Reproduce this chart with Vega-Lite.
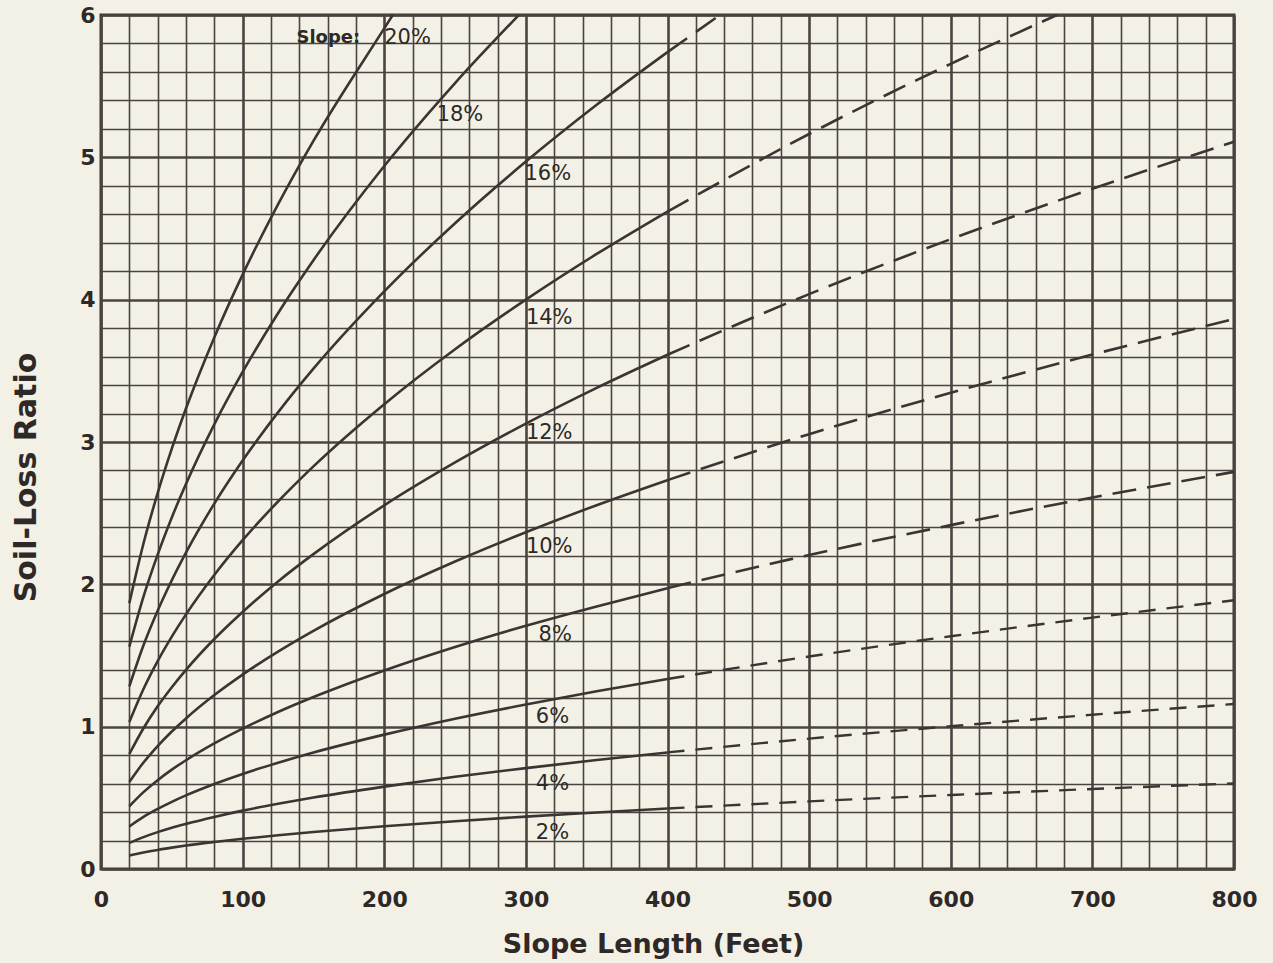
{
  "$schema": "https://vega.github.io/schema/vega-lite/v6.json",
  "width": 1133,
  "height": 854,
  "autosize": {"type": "none"},
  "padding": {"left": 101, "top": 15, "right": 39, "bottom": 94},
  "background": "#f3f1e6",
  "config": {
    "view": {"stroke": "#3a3532", "strokeWidth": 3},
    "font": "DejaVu Sans"
  },
  "datasets": {
    "curves": [
      {"slope": 2, "part": "solid", "x": 20, "y": 0.095}, {"slope": 2, "part": "solid", "x": 30, "y": 0.116}, {"slope": 2, "part": "solid", "x": 40, "y": 0.134}, {"slope": 2, "part": "solid", "x": 50, "y": 0.150}, {"slope": 2, "part": "solid", "x": 60, "y": 0.165}, {"slope": 2, "part": "solid", "x": 80, "y": 0.190}, {"slope": 2, "part": "solid", "x": 100, "y": 0.212}, {"slope": 2, "part": "solid", "x": 125, "y": 0.237}, {"slope": 2, "part": "solid", "x": 150, "y": 0.260}, {"slope": 2, "part": "solid", "x": 200, "y": 0.300}, {"slope": 2, "part": "solid", "x": 250, "y": 0.336}, {"slope": 2, "part": "solid", "x": 300, "y": 0.368}, {"slope": 2, "part": "solid", "x": 350, "y": 0.397}, {"slope": 2, "part": "solid", "x": 400, "y": 0.425},
      {"slope": 2, "part": "dashed", "x": 400, "y": 0.425}, {"slope": 2, "part": "dashed", "x": 500, "y": 0.475}, {"slope": 2, "part": "dashed", "x": 600, "y": 0.520}, {"slope": 2, "part": "dashed", "x": 700, "y": 0.562}, {"slope": 2, "part": "dashed", "x": 800, "y": 0.601},
      {"slope": 4, "part": "solid", "x": 20, "y": 0.183}, {"slope": 4, "part": "solid", "x": 30, "y": 0.224}, {"slope": 4, "part": "solid", "x": 40, "y": 0.259}, {"slope": 4, "part": "solid", "x": 50, "y": 0.290}, {"slope": 4, "part": "solid", "x": 60, "y": 0.317}, {"slope": 4, "part": "solid", "x": 80, "y": 0.366}, {"slope": 4, "part": "solid", "x": 100, "y": 0.410}, {"slope": 4, "part": "solid", "x": 125, "y": 0.458}, {"slope": 4, "part": "solid", "x": 150, "y": 0.502}, {"slope": 4, "part": "solid", "x": 200, "y": 0.579}, {"slope": 4, "part": "solid", "x": 250, "y": 0.648}, {"slope": 4, "part": "solid", "x": 300, "y": 0.709}, {"slope": 4, "part": "solid", "x": 350, "y": 0.766}, {"slope": 4, "part": "solid", "x": 400, "y": 0.819},
      {"slope": 4, "part": "dashed", "x": 400, "y": 0.819}, {"slope": 4, "part": "dashed", "x": 500, "y": 0.916}, {"slope": 4, "part": "dashed", "x": 600, "y": 1.003}, {"slope": 4, "part": "dashed", "x": 700, "y": 1.084}, {"slope": 4, "part": "dashed", "x": 800, "y": 1.159},
      {"slope": 6, "part": "solid", "x": 20, "y": 0.299}, {"slope": 6, "part": "solid", "x": 30, "y": 0.366}, {"slope": 6, "part": "solid", "x": 40, "y": 0.422}, {"slope": 6, "part": "solid", "x": 50, "y": 0.472}, {"slope": 6, "part": "solid", "x": 60, "y": 0.517}, {"slope": 6, "part": "solid", "x": 80, "y": 0.597}, {"slope": 6, "part": "solid", "x": 100, "y": 0.668}, {"slope": 6, "part": "solid", "x": 125, "y": 0.746}, {"slope": 6, "part": "solid", "x": 150, "y": 0.818}, {"slope": 6, "part": "solid", "x": 200, "y": 0.944}, {"slope": 6, "part": "solid", "x": 250, "y": 1.056}, {"slope": 6, "part": "solid", "x": 300, "y": 1.156}, {"slope": 6, "part": "solid", "x": 350, "y": 1.249}, {"slope": 6, "part": "solid", "x": 400, "y": 1.335},
      {"slope": 6, "part": "dashed", "x": 400, "y": 1.335}, {"slope": 6, "part": "dashed", "x": 500, "y": 1.493}, {"slope": 6, "part": "dashed", "x": 600, "y": 1.635}, {"slope": 6, "part": "dashed", "x": 700, "y": 1.766}, {"slope": 6, "part": "dashed", "x": 800, "y": 1.888},
      {"slope": 8, "part": "solid", "x": 20, "y": 0.441}, {"slope": 8, "part": "solid", "x": 30, "y": 0.540}, {"slope": 8, "part": "solid", "x": 40, "y": 0.624}, {"slope": 8, "part": "solid", "x": 50, "y": 0.698}, {"slope": 8, "part": "solid", "x": 60, "y": 0.764}, {"slope": 8, "part": "solid", "x": 80, "y": 0.882}, {"slope": 8, "part": "solid", "x": 100, "y": 0.986}, {"slope": 8, "part": "solid", "x": 125, "y": 1.103}, {"slope": 8, "part": "solid", "x": 150, "y": 1.208}, {"slope": 8, "part": "solid", "x": 200, "y": 1.395}, {"slope": 8, "part": "solid", "x": 250, "y": 1.560}, {"slope": 8, "part": "solid", "x": 300, "y": 1.709}, {"slope": 8, "part": "solid", "x": 350, "y": 1.845}, {"slope": 8, "part": "solid", "x": 400, "y": 1.973},
      {"slope": 8, "part": "dashed", "x": 400, "y": 1.973}, {"slope": 8, "part": "dashed", "x": 500, "y": 2.206}, {"slope": 8, "part": "dashed", "x": 600, "y": 2.416}, {"slope": 8, "part": "dashed", "x": 700, "y": 2.610}, {"slope": 8, "part": "dashed", "x": 800, "y": 2.790},
      {"slope": 10, "part": "solid", "x": 20, "y": 0.611}, {"slope": 10, "part": "solid", "x": 30, "y": 0.748}, {"slope": 10, "part": "solid", "x": 40, "y": 0.864}, {"slope": 10, "part": "solid", "x": 50, "y": 0.966}, {"slope": 10, "part": "solid", "x": 60, "y": 1.058}, {"slope": 10, "part": "solid", "x": 80, "y": 1.222}, {"slope": 10, "part": "solid", "x": 100, "y": 1.366}, {"slope": 10, "part": "solid", "x": 125, "y": 1.527}, {"slope": 10, "part": "solid", "x": 150, "y": 1.673}, {"slope": 10, "part": "solid", "x": 200, "y": 1.932}, {"slope": 10, "part": "solid", "x": 250, "y": 2.160}, {"slope": 10, "part": "solid", "x": 300, "y": 2.366}, {"slope": 10, "part": "solid", "x": 350, "y": 2.556}, {"slope": 10, "part": "solid", "x": 400, "y": 2.732},
      {"slope": 10, "part": "dashed", "x": 400, "y": 2.732}, {"slope": 10, "part": "dashed", "x": 500, "y": 3.055}, {"slope": 10, "part": "dashed", "x": 600, "y": 3.346}, {"slope": 10, "part": "dashed", "x": 700, "y": 3.614}, {"slope": 10, "part": "dashed", "x": 800, "y": 3.864},
      {"slope": 12, "part": "solid", "x": 20, "y": 0.808}, {"slope": 12, "part": "solid", "x": 30, "y": 0.989}, {"slope": 12, "part": "solid", "x": 40, "y": 1.143}, {"slope": 12, "part": "solid", "x": 50, "y": 1.277}, {"slope": 12, "part": "solid", "x": 60, "y": 1.399}, {"slope": 12, "part": "solid", "x": 80, "y": 1.616}, {"slope": 12, "part": "solid", "x": 100, "y": 1.806}, {"slope": 12, "part": "solid", "x": 125, "y": 2.020}, {"slope": 12, "part": "solid", "x": 150, "y": 2.212}, {"slope": 12, "part": "solid", "x": 200, "y": 2.555}, {"slope": 12, "part": "solid", "x": 250, "y": 2.856}, {"slope": 12, "part": "solid", "x": 300, "y": 3.129}, {"slope": 12, "part": "solid", "x": 350, "y": 3.380}, {"slope": 12, "part": "solid", "x": 400, "y": 3.613},
      {"slope": 12, "part": "dashed", "x": 400, "y": 3.613}, {"slope": 12, "part": "dashed", "x": 500, "y": 4.039}, {"slope": 12, "part": "dashed", "x": 600, "y": 4.425}, {"slope": 12, "part": "dashed", "x": 700, "y": 4.779}, {"slope": 12, "part": "dashed", "x": 800, "y": 5.109},
      {"slope": 14, "part": "solid", "x": 20, "y": 1.033}, {"slope": 14, "part": "solid", "x": 30, "y": 1.265}, {"slope": 14, "part": "solid", "x": 40, "y": 1.461}, {"slope": 14, "part": "solid", "x": 50, "y": 1.633}, {"slope": 14, "part": "solid", "x": 60, "y": 1.789}, {"slope": 14, "part": "solid", "x": 80, "y": 2.066}, {"slope": 14, "part": "solid", "x": 100, "y": 2.310}, {"slope": 14, "part": "solid", "x": 125, "y": 2.582}, {"slope": 14, "part": "solid", "x": 150, "y": 2.829}, {"slope": 14, "part": "solid", "x": 200, "y": 3.266}, {"slope": 14, "part": "solid", "x": 250, "y": 3.652}, {"slope": 14, "part": "solid", "x": 300, "y": 4.000}, {"slope": 14, "part": "solid", "x": 350, "y": 4.321}, {"slope": 14, "part": "solid", "x": 400, "y": 4.619},
      {"slope": 14, "part": "dashed", "x": 400, "y": 4.619}, {"slope": 14, "part": "dashed", "x": 500, "y": 5.164}, {"slope": 14, "part": "dashed", "x": 600, "y": 5.657}, {"slope": 14, "part": "dashed", "x": 675, "y": 6.0},
      {"slope": 16, "part": "solid", "x": 20, "y": 1.283}, {"slope": 16, "part": "solid", "x": 30, "y": 1.572}, {"slope": 16, "part": "solid", "x": 40, "y": 1.815}, {"slope": 16, "part": "solid", "x": 50, "y": 2.029}, {"slope": 16, "part": "solid", "x": 60, "y": 2.223}, {"slope": 16, "part": "solid", "x": 80, "y": 2.567}, {"slope": 16, "part": "solid", "x": 100, "y": 2.870}, {"slope": 16, "part": "solid", "x": 125, "y": 3.208}, {"slope": 16, "part": "solid", "x": 150, "y": 3.515}, {"slope": 16, "part": "solid", "x": 200, "y": 4.058}, {"slope": 16, "part": "solid", "x": 250, "y": 4.537}, {"slope": 16, "part": "solid", "x": 300, "y": 4.970}, {"slope": 16, "part": "solid", "x": 350, "y": 5.369}, {"slope": 16, "part": "solid", "x": 400, "y": 5.739},
      {"slope": 16, "part": "dashed", "x": 400, "y": 5.739}, {"slope": 16, "part": "dashed", "x": 437, "y": 6.0},
      {"slope": 18, "part": "solid", "x": 20, "y": 1.562}, {"slope": 18, "part": "solid", "x": 30, "y": 1.913}, {"slope": 18, "part": "solid", "x": 40, "y": 2.209}, {"slope": 18, "part": "solid", "x": 50, "y": 2.470}, {"slope": 18, "part": "solid", "x": 60, "y": 2.705}, {"slope": 18, "part": "solid", "x": 80, "y": 3.124}, {"slope": 18, "part": "solid", "x": 100, "y": 3.492}, {"slope": 18, "part": "solid", "x": 125, "y": 3.905}, {"slope": 18, "part": "solid", "x": 150, "y": 4.277}, {"slope": 18, "part": "solid", "x": 200, "y": 4.939}, {"slope": 18, "part": "solid", "x": 250, "y": 5.522}, {"slope": 18, "part": "solid", "x": 295, "y": 6.0},
      {"slope": 20, "part": "solid", "x": 20, "y": 1.868}, {"slope": 20, "part": "solid", "x": 30, "y": 2.287}, {"slope": 20, "part": "solid", "x": 40, "y": 2.641}, {"slope": 20, "part": "solid", "x": 50, "y": 2.953}, {"slope": 20, "part": "solid", "x": 60, "y": 3.235}, {"slope": 20, "part": "solid", "x": 80, "y": 3.735}, {"slope": 20, "part": "solid", "x": 100, "y": 4.176}, {"slope": 20, "part": "solid", "x": 125, "y": 4.669}, {"slope": 20, "part": "solid", "x": 150, "y": 5.115}, {"slope": 20, "part": "solid", "x": 200, "y": 5.906}, {"slope": 20, "part": "solid", "x": 206, "y": 6.0}
    ],
    "labels": [
      {"label": "Slope:", "kind": "head", "x": 138, "y": 5.84},
      {"label": "20%", "kind": "curve", "x": 200, "y": 5.84},
      {"label": "18%", "kind": "curve", "x": 237, "y": 5.30},
      {"label": "16%", "kind": "curve", "x": 299, "y": 4.88},
      {"label": "14%", "kind": "curve", "x": 300, "y": 3.87},
      {"label": "12%", "kind": "curve", "x": 300, "y": 3.06},
      {"label": "10%", "kind": "curve", "x": 300, "y": 2.26},
      {"label": "8%", "kind": "curve", "x": 309, "y": 1.645},
      {"label": "6%", "kind": "curve", "x": 307, "y": 1.07},
      {"label": "4%", "kind": "curve", "x": 307, "y": 0.60},
      {"label": "2%", "kind": "curve", "x": 307, "y": 0.25}
    ]
  },
  "layer": [
    {
      "data": {"name": "curves"},
      "transform": [{"filter": "datum.part === 'solid'"}],
      "mark": {"type": "line", "interpolate": "monotone", "stroke": "#3a3532", "strokeWidth": 2.6},
      "encoding": {
        "x": {
          "field": "x", "type": "quantitative",
          "scale": {"domain": [0, 800], "nice": false},
          "axis": {
            "values": [0, 20, 40, 60, 80, 100, 120, 140, 160, 180, 200, 220, 240, 260, 280, 300, 320, 340, 360, 380, 400, 420, 440, 460, 480, 500, 520, 540, 560, 580, 600, 620, 640, 660, 680, 700, 720, 740, 760, 780, 800],
            "tickCount": 200,
            "labelExpr": "datum.value % 100 === 0 ? '' + datum.value : ''",
            "grid": true,
            "gridColor": "#4a4441",
            "gridOpacity": 1,
            "gridWidth": {"condition": {"test": "datum.value % 100 === 0", "value": 2.6}, "value": 1.6},
            "ticks": false,
            "domain": false,
            "labelOverlap": false,
            "labelFlush": false,
            "labelBound": false,
            "labelFont": "DejaVu Sans",
            "labelFontSize": 22,
            "labelFontWeight": "bold",
            "labelColor": "#2e2926",
            "labelPadding": 20,
            "title": "Slope Length (Feet)",
            "titleFont": "DejaVu Sans",
            "titleFontSize": 27,
            "titleFontWeight": "bold",
            "titleColor": "#2e2926",
            "titlePadding": 21,
            "titleX": 552
          }
        },
        "y": {
          "field": "y", "type": "quantitative",
          "scale": {"domain": [0, 6], "nice": false},
          "axis": {
            "values": [0, 0.2, 0.4, 0.6, 0.8, 1, 1.2, 1.4, 1.6, 1.8, 2, 2.2, 2.4, 2.6, 2.8, 3, 3.2, 3.4, 3.6, 3.8, 4, 4.2, 4.4, 4.6, 4.8, 5, 5.2, 5.4, 5.6, 5.8, 6],
            "tickCount": 200,
            "labelExpr": "datum.value % 1 === 0 ? '' + datum.value : ''",
            "grid": true,
            "gridColor": "#4a4441",
            "gridOpacity": 1,
            "gridWidth": {"condition": {"test": "datum.value % 1 === 0", "value": 2.6}, "value": 1.6},
            "ticks": false,
            "domain": false,
            "labelOverlap": false,
            "labelFlush": false,
            "labelBound": false,
            "labelFont": "DejaVu Sans",
            "labelFontSize": 22,
            "labelFontWeight": "bold",
            "labelColor": "#2e2926",
            "labelPadding": 6,
            "title": "Soil-Loss Ratio",
            "titleFont": "DejaVu Sans",
            "titleFontSize": 30,
            "titleFontWeight": "bold",
            "titleColor": "#2e2926",
            "titlePadding": 38,
            "titleY": 462
          }
        },
        "detail": {"field": "slope", "type": "nominal"}
      }
    },
    {
      "data": {"name": "curves"},
      "transform": [{"filter": "datum.part === 'dashed' && datum.slope >= 8"}],
      "mark": {"type": "line", "interpolate": "monotone", "stroke": "#3a3532", "strokeWidth": 2.6, "strokeDash": [24, 11]},
      "encoding": {
        "x": {"field": "x", "type": "quantitative"},
        "y": {"field": "y", "type": "quantitative"},
        "detail": {"field": "slope", "type": "nominal"}
      }
    },
    {
      "data": {"name": "curves"},
      "transform": [{"filter": "datum.part === 'dashed' && datum.slope < 8"}],
      "mark": {"type": "line", "interpolate": "monotone", "stroke": "#3a3532", "strokeWidth": 2.4, "strokeDash": [17, 11]},
      "encoding": {
        "x": {"field": "x", "type": "quantitative"},
        "y": {"field": "y", "type": "quantitative"},
        "detail": {"field": "slope", "type": "nominal"}
      }
    },
    {
      "data": {"name": "labels"},
      "transform": [{"filter": "datum.kind === 'curve'"}],
      "mark": {"type": "text", "align": "left", "baseline": "middle", "font": "DejaVu Sans", "fontSize": 21, "color": "#2e2926"},
      "encoding": {
        "x": {"field": "x", "type": "quantitative"},
        "y": {"field": "y", "type": "quantitative"},
        "text": {"field": "label"}
      }
    },
    {
      "data": {"name": "labels"},
      "transform": [{"filter": "datum.kind === 'head'"}],
      "mark": {"type": "text", "align": "left", "baseline": "middle", "font": "DejaVu Sans", "fontSize": 18, "fontWeight": "bold", "color": "#2e2926"},
      "encoding": {
        "x": {"field": "x", "type": "quantitative"},
        "y": {"field": "y", "type": "quantitative"},
        "text": {"field": "label"}
      }
    }
  ]
}
